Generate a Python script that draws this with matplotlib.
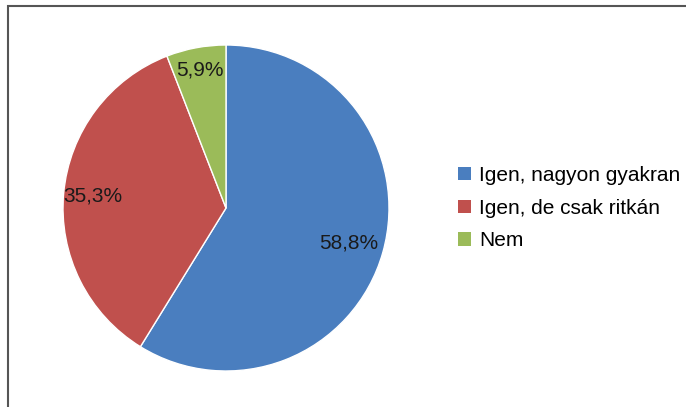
import numpy as np
import matplotlib
matplotlib.use('Agg')
import matplotlib.pyplot as plt
from matplotlib.patches import Rectangle, Patch

plt.rcParams['font.family'] = ['Liberation Sans', 'DejaVu Sans']

labels = ['Igen, nagyon gyakran', 'Igen, de csak ritkán', 'Nem']
values = [58.8, 35.3, 5.9]
colors = ['#4A7EBF', '#C0504D', '#9BBB59']
label_dist = [0.78, 0.82, 0.86]

W, H = 686, 407
fig = plt.figure(figsize=(W / 100, H / 100), dpi=100)

# frame around the chart (only top and left visible in the original)
fig.patches.append(Rectangle((8 / W, -0.05), 1.2, (H - 6) / H + 0.05,
                             transform=fig.transFigure, fill=False,
                             edgecolor='#555555', linewidth=1.5))

# pie centred at (226, 208) px, radius 163 px
cx, cy, r = 226, 208, 163
ax = fig.add_axes([(cx - r) / W, (H - cy - r) / H, 2 * r / W, 2 * r / H])
wedges, texts = ax.pie(values, colors=colors, startangle=90, counterclock=False,
                       wedgeprops=dict(edgecolor='white', linewidth=1))
ax.set_aspect('equal')
ax.set_xlim(-1, 1)
ax.set_ylim(-1, 1)

for w, v, d in zip(wedges, values, label_dist):
    ang = np.deg2rad((w.theta1 + w.theta2) / 2)
    ax.text(d * np.cos(ang), d * np.sin(ang), ('%.1f%%' % v).replace('.', ','),
            ha='center', va='center', fontsize=15, color='#1a1a1a')

handles = [Patch(facecolor=c, edgecolor='none') for c in colors]
fig.legend(handles, labels, loc='center left', bbox_to_anchor=(458 / W, 1 - 208 / H),
           frameon=False, fontsize=15, handlelength=0.6, handleheight=0.6,
           handletextpad=0.4, labelspacing=0.66, borderpad=0, borderaxespad=0)

fig.savefig('out.png', dpi=100, facecolor='white')
